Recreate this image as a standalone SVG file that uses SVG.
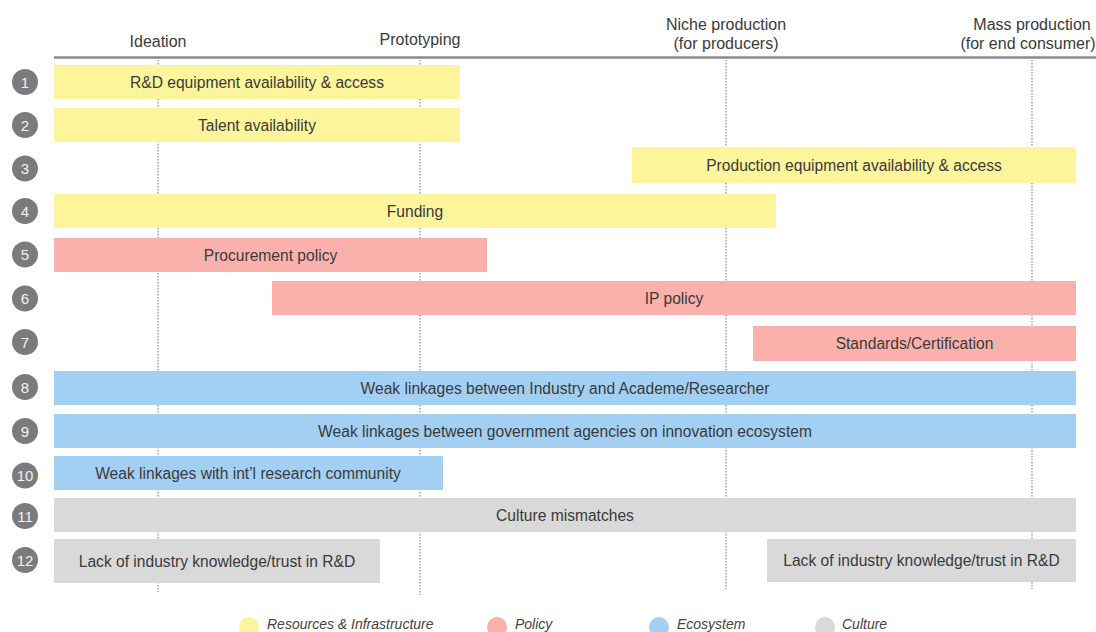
<svg xmlns="http://www.w3.org/2000/svg" width="1096" height="632" viewBox="0 0 1096 632">
  <style>
    text { font-family: "Liberation Sans", Arial, sans-serif; font-size: 15.6px; fill: #3a3a3a; }
    .lbl { text-anchor: middle; }
    .hdr { text-anchor: middle; font-size: 16px; }
    .num { text-anchor: middle; fill: #f2f2f2; font-size: 15px; }
    .leg { font-style: italic; font-size: 14px; fill: #444; }
    .res { fill: #fdf59b; }
    .pol { fill: #fbb1ab; }
    .eco { fill: #a3cff3; }
    .cul { fill: #d9d9d9; }
    .badge { fill: #7b7b7b; }
    .guide { stroke: #8a8a8a; stroke-width: 1.2; stroke-dasharray: 1.5 1.5; fill: none; }
  </style>

  <!-- Stage headers and axis -->
  <g id="axis">
    <text class="hdr" x="158" y="47">Ideation</text>
    <text class="hdr" x="420" y="45">Prototyping</text>
    <text class="hdr" x="726" y="30">Niche production</text>
    <text class="hdr" x="726" y="49">(for producers)</text>
    <text class="hdr" x="1032" y="30">Mass production</text>
    <text class="hdr" x="1028" y="49">(for end consumer)</text>
    <line x1="54" y1="57.5" x2="1096" y2="57.5" stroke="#8a8a8a" stroke-width="2.5"/>
  </g>

  <!-- Dotted stage guides -->
  <g id="connectors">
    <line class="guide" x1="158" y1="60" x2="158" y2="592"/>
    <line class="guide" x1="420" y1="60" x2="420" y2="595"/>
    <line class="guide" x1="726" y1="60" x2="726" y2="589"/>
    <line class="guide" x1="1032" y1="60" x2="1032" y2="589"/>
  </g>

  <!-- Number badges -->
  <g id="badges">
    <circle class="badge" cx="25" cy="82" r="13"/><text class="num" x="25" y="87.5">1</text>
    <circle class="badge" cx="25" cy="125" r="13"/><text class="num" x="25" y="130.5">2</text>
    <circle class="badge" cx="25" cy="168.5" r="13"/><text class="num" x="25" y="174">3</text>
    <circle class="badge" cx="25" cy="211" r="13"/><text class="num" x="25" y="216.5">4</text>
    <circle class="badge" cx="25" cy="254.5" r="13"/><text class="num" x="25" y="260">5</text>
    <circle class="badge" cx="25" cy="298.5" r="13"/><text class="num" x="25" y="304">6</text>
    <circle class="badge" cx="25" cy="342" r="13"/><text class="num" x="25" y="347.5">7</text>
    <circle class="badge" cx="25" cy="387" r="13"/><text class="num" x="25" y="392.5">8</text>
    <circle class="badge" cx="25" cy="431" r="13"/><text class="num" x="25" y="436.5">9</text>
    <circle class="badge" cx="25" cy="475.5" r="13"/><text class="num" x="25" y="481">10</text>
    <circle class="badge" cx="25" cy="516" r="13"/><text class="num" x="25" y="521.5">11</text>
    <circle class="badge" cx="25" cy="560" r="13"/><text class="num" x="25" y="565.5">12</text>
  </g>

  <!-- Resources & Infrastructure -->
  <g id="bar1">
    <rect class="res" x="54" y="65" width="406" height="34"/>
    <text class="lbl" x="257" y="87.5">R&amp;D equipment availability &amp; access</text>
  </g>
  <g id="bar2">
    <rect class="res" x="54" y="108" width="406" height="34"/>
    <text class="lbl" x="257" y="130.5">Talent availability</text>
  </g>
  <g id="bar3">
    <rect class="res" x="632" y="147" width="444" height="36"/>
    <text class="lbl" x="854" y="170.5">Production equipment availability &amp; access</text>
  </g>
  <g id="bar4">
    <rect class="res" x="54" y="194" width="722" height="34"/>
    <text class="lbl" x="415" y="216.5">Funding</text>
  </g>

  <!-- Policy -->
  <g id="bar5">
    <rect class="pol" x="54" y="238" width="433" height="34"/>
    <text class="lbl" x="270.5" y="260.5">Procurement policy</text>
  </g>
  <g id="bar6">
    <rect class="pol" x="272" y="281" width="804" height="34"/>
    <text class="lbl" x="674" y="303.5">IP policy</text>
  </g>
  <g id="bar7">
    <rect class="pol" x="753" y="326" width="323" height="35"/>
    <text class="lbl" x="914.5" y="349">Standards/Certification</text>
  </g>

  <!-- Ecosystem -->
  <g id="bar8">
    <rect class="eco" x="54" y="371" width="1022" height="34"/>
    <text class="lbl" x="565" y="393.5">Weak linkages between Industry and Academe/Researcher</text>
  </g>
  <g id="bar9">
    <rect class="eco" x="54" y="414" width="1022" height="34"/>
    <text class="lbl" x="565" y="436.5">Weak linkages between government agencies on innovation ecosystem</text>
  </g>
  <g id="bar10">
    <rect class="eco" x="54" y="456" width="389" height="34"/>
    <text class="lbl" x="248" y="478.5">Weak linkages with int’l research community</text>
  </g>

  <!-- Culture -->
  <g id="bar11">
    <rect class="cul" x="54" y="498" width="1022" height="34"/>
    <text class="lbl" x="565" y="520.5">Culture mismatches</text>
  </g>
  <g id="bar12a">
    <rect class="cul" x="54" y="539" width="326" height="44"/>
    <text class="lbl" x="217" y="566.5">Lack of industry knowledge/trust in R&amp;D</text>
  </g>
  <g id="bar12b">
    <rect class="cul" x="767" y="539" width="309" height="43"/>
    <text class="lbl" x="921.5" y="566">Lack of industry knowledge/trust in R&amp;D</text>
  </g>

  <!-- Legend -->
  <g id="legend">
    <circle class="res" cx="249" cy="627" r="10"/>
    <text class="leg" x="267" y="629">Resources &amp; Infrastructure</text>
    <circle class="pol" cx="497" cy="627" r="10"/>
    <text class="leg" x="515" y="629">Policy</text>
    <circle class="eco" cx="659" cy="627" r="10"/>
    <text class="leg" x="677" y="629">Ecosystem</text>
    <circle class="cul" cx="825" cy="627" r="10"/>
    <text class="leg" x="842" y="629">Culture</text>
  </g>
</svg>
